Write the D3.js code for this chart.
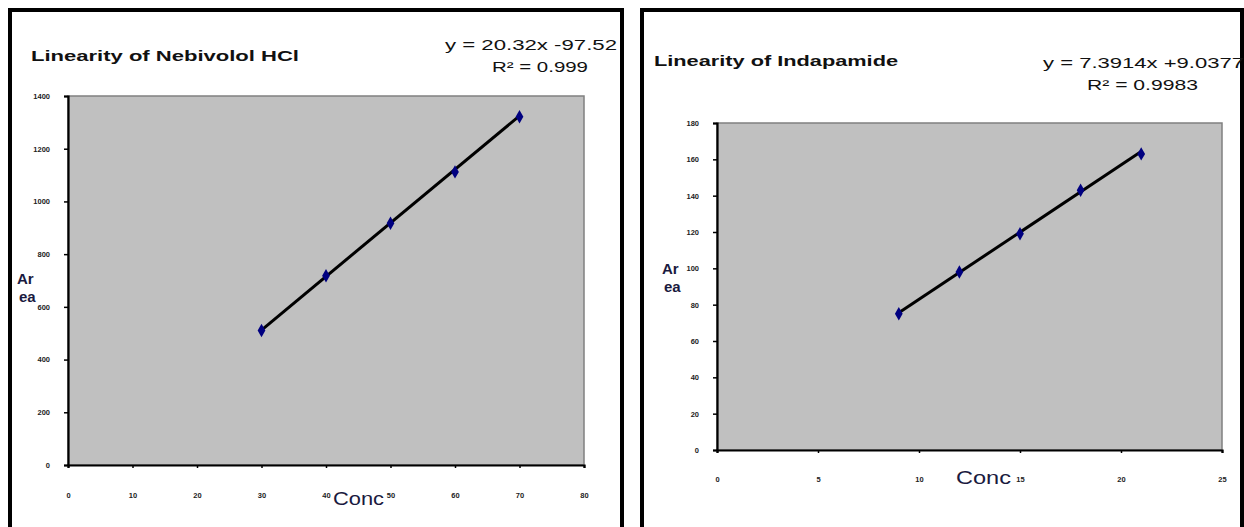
<!DOCTYPE html>
<html>
<head>
<meta charset="utf-8">
<script src="https://cdn.jsdelivr.net/npm/d3@7"></script>
<style>
  body { margin: 0; background: #fff; }
  svg { display: block; font-family: "Liberation Sans", Arial, sans-serif; }
</style>
</head>
<body>
<svg id="chart" width="1244" height="527"></svg>
<script>
// values
const nebConc = [30, 40, 50, 60, 70];
const nebArea = [510, 718, 917, 1112, 1321];
const nebFit = [20.32, -97.52];
const nebXTicks = [0, 10, 20, 30, 40, 50, 60, 70, 80];
const nebYTicks = [0, 200, 400, 600, 800, 1000, 1200, 1400];

const indConc = [9, 12, 15, 18, 21];
const indArea = [75, 98, 119, 143, 163];
const indFit = [7.3914, 9.0377];
const indXTicks = [0, 5, 10, 15, 20, 25];
const indYTicks = [0, 20, 40, 60, 80, 100, 120, 140, 160, 180];

const svg = d3.select('#chart');

// black frames round the two panels (open at the bottom)
function frame(x0, x1) {
    svg.append('path')
        .attr('d', `M${x0},527 V10 H${x1} V527`)
        .attr('fill', 'none')
        .attr('stroke', '#000')
        .attr('stroke-width', 4);
}
frame(10, 622);
frame(642, 1242);

function drawChart(o) {
    const x = d3.scaleLinear().domain(o.xDomain).range(o.xRange);
    const y = d3.scaleLinear().domain(o.yDomain).range(o.yRange);
    const g = svg.append('g');

    g.append('rect')
        .attr('x', x.range()[0]).attr('y', y.range()[1])
        .attr('width', x.range()[1] - x.range()[0])
        .attr('height', y.range()[0] - y.range()[1])
        .attr('fill', '#c0c0c0')
        .attr('stroke', '#808080')
        .attr('stroke-width', 1.5);

    const yAxis = g.append('g')
        .attr('transform', `translate(${x.range()[0]},0)`)
        .call(d3.axisLeft(y).tickValues(o.yTicks).tickSize(4).tickPadding(o.yPad).tickFormat(d3.format('d')));
    const xAxis = g.append('g')
        .attr('transform', `translate(0,${y.range()[0]})`)
        .call(d3.axisBottom(x).tickValues(o.xTicks).tickSize(3).tickPadding(o.xPad).tickFormat(d3.format('d')));
    [yAxis, xAxis].forEach(a => {
        a.select('.domain').attr('stroke', '#000').attr('stroke-width', 2.2);
        a.selectAll('.tick line').attr('stroke', '#000').attr('stroke-width', 1.5);
        a.selectAll('.tick text').attr('fill', '#222').attr('font-size', 7.5).attr('font-weight', 'bold');
    });

    // trendline over the data range
    const [m, b] = o.fit;
    const xs = d3.extent(o.conc);
    g.append('line')
        .attr('x1', x(xs[0])).attr('y1', y(m * xs[0] + b))
        .attr('x2', x(xs[1])).attr('y2', y(m * xs[1] + b))
        .attr('stroke', '#000').attr('stroke-width', 3);

    g.selectAll('path.pt')
        .data(o.conc.map((c, i) => [c, o.area[i]]))
        .join('path')
        .attr('class', 'pt')
        .attr('d', d3.symbol(d3.symbolDiamond, 52))
        .attr('transform', d => `translate(${x(d[0])},${y(d[1])})`)
        .attr('fill', '#000080');

    const txt = (s, px, py, size, opts = {}) => {
        const t = g.append('text')
            .attr('x', px).attr('y', py)
            .attr('font-size', size)
            .attr('fill', opts.fill || '#111')
            .attr('font-weight', opts.bold ? 'bold' : 'normal')
            .attr('text-anchor', opts.anchor || 'start')
            .text(s);
        if (opts.len) t.attr('textLength', opts.len).attr('lengthAdjust', 'spacingAndGlyphs');
        return t;
    };

    txt(o.title, o.titlePos[0], o.titlePos[1], 14, { bold: true, len: o.titlePos[2] });
    txt(o.eq, o.eqPos[0], o.eqPos[1], 15, { len: o.eqPos[2] });
    txt(o.r2, o.r2Pos[0], o.r2Pos[1], 15, { len: o.r2Pos[2] });
    txt('Ar', o.arPos[0], o.arPos[1], 15, { bold: true, fill: '#1a1a40' });
    txt('ea', o.arPos[0] + 2, o.arPos[1] + 18, 15, { bold: true, fill: '#1a1a40' });
    txt('Conc', o.concPos[0], o.concPos[1], 18, { fill: '#1a1a40', len: o.concPos[2] });
}

drawChart({
    conc: nebConc, area: nebArea, fit: nebFit,
    xDomain: [0, 80], xRange: [68, 584],
    yDomain: [0, 1400], yRange: [465, 96],
    xTicks: nebXTicks, yTicks: nebYTicks, xPad: 25, yPad: 14,
    title: 'Linearity  of Nebivolol HCl', titlePos: [31, 61, 268],
    eq: 'y = 20.32x -97.52', eqPos: [445, 50, 172],
    r2: 'R² = 0.999', r2Pos: [492, 72, 96],
    arPos: [17, 284],
    concPos: [333, 505, 51]
});

drawChart({
    conc: indConc, area: indArea, fit: indFit,
    xDomain: [0, 25], xRange: [717, 1222],
    yDomain: [0, 180], yRange: [450, 123],
    xTicks: indXTicks, yTicks: indYTicks, xPad: 24, yPad: 14,
    title: 'Linearity of Indapamide', titlePos: [654, 66, 244],
    eq: 'y = 7.3914x +9.0377', eqPos: [1043, 68, 201],
    r2: 'R² = 0.9983', r2Pos: [1087, 90, 111],
    arPos: [662, 274],
    concPos: [956, 484, 55]
});
</script>
</body>
</html>
